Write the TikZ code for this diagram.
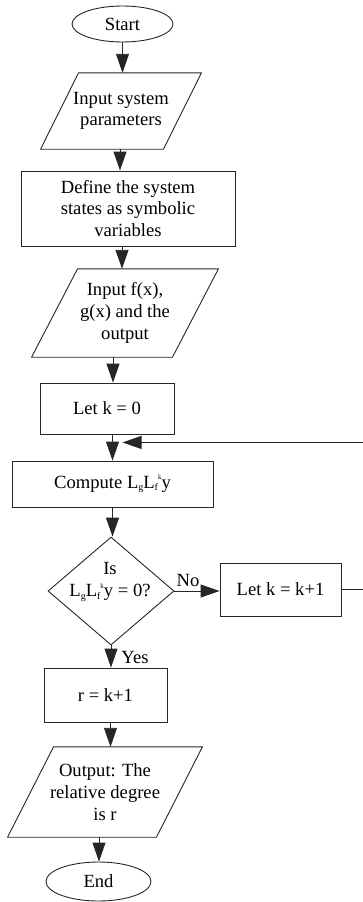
\documentclass[tikz,border=0pt]{standalone}
\usepackage{fontspec}
\setmainfont{Liberation Serif}
\usetikzlibrary{shapes.geometric,arrows.meta}
\newcommand\subsc[1]{\raisebox{-.3ex}{\fontsize{10}{10}\selectfont #1}}
\newcommand\supsc[1]{\raisebox{1.0ex}{\fontsize{7}{7}\selectfont #1}}
\newcommand\LgLfk{L\subsc{g}L\subsc{f}\supsc{k}y}
\tikzset{
  base/.style={font=\fontsize{18.6}{21.7}\selectfont, align=center, inner sep=0pt},
  shp/.style={base, draw=black!85, line width=0.9pt},
  proc/.style={shp, rectangle},
  term/.style={shp, ellipse},
  dia/.style={shp, diamond},
  io/.style={base, rectangle},
  iodraw/.style={draw=black!85, line width=0.9pt},
  flow/.style={draw=black!85, line width=0.9pt, -{Triangle[length=19pt,width=13pt]}},
  lbl/.style={font=\fontsize{18.6}{21.7}\selectfont, inner sep=0pt}
}
\begin{document}
\begin{tikzpicture}[x=1pt,y=-1pt]
\useasboundingbox (0,0) rectangle (363,902);
\clip (0,0) rectangle (363,902);
% nodes
\node[term, minimum width=101pt, minimum height=36pt] (start) at (122.5,24) {Start};
\node[io, minimum width=122.5pt, minimum height=76pt] (p1) at (121,111) {Input system\\parameters};
\node[proc, minimum width=214pt, minimum height=75pt] (r2) at (128,208.5) {Define the system\\states as symbolic\\variables};
\node[io, minimum width=140.5pt, minimum height=88pt] (p2) at (125,313) {Input f(x),\\g(x) and the\\output};
\node[proc, minimum width=134pt, minimum height=51pt] (r3) at (107,408.5) {Let k = 0};
\node[proc, minimum width=201pt, minimum height=46pt] (r4) at (112.5,484) {Compute \LgLfk};
\node[dia, minimum width=126pt, minimum height=108pt] (d) at (111,591) {};
\node[base] (dt) at (110,582) {Is\\\LgLfk{} = 0?};
\node[proc, minimum width=121pt, minimum height=53pt] (r5) at (280.5,589.5) {Let k = k+1};
\node[proc, minimum width=123pt, minimum height=54pt] (r6) at (105.5,695) {r = k+1};
\node[io, minimum width=148.5pt, minimum height=90pt] (p3) at (105,792) {Output: The\\relative degree\\is r};
\node[term, minimum width=105pt, minimum height=39pt] (end) at (98.5,881.5) {End};
% parallelograms
\draw[iodraw] ([xshift=19pt]p1.north west) -- ([xshift=19pt]p1.north east) -- ([xshift=-19pt]p1.south east) -- ([xshift=-19pt]p1.south west) -- cycle;
\draw[iodraw] ([xshift=23pt]p2.north west) -- ([xshift=23pt]p2.north east) -- ([xshift=-23pt]p2.south east) -- ([xshift=-23pt]p2.south west) -- cycle;
\draw[iodraw] ([xshift=23pt]p3.north west) -- ([xshift=23pt]p3.north east) -- ([xshift=-23pt]p3.south east) -- ([xshift=-23pt]p3.south west) -- cycle;
% connectors
\draw[flow] (start.south) -- (start.south |- p1.north);
\draw[flow] ([xshift=-1pt]p1.south) -- ([xshift=-1pt]p1.south |- r2.north);
\draw[flow] ([xshift=-6pt]r2.south) -- ([xshift=-6pt]r2.south |- p2.north);
\draw[flow] ([xshift=-12pt]p2.south) -- ([xshift=-12pt]p2.south |- r3.north);
\coordinate (join) at ([yshift=-8pt]r3.south -| r4.north);
\draw[flow] (r4.north |- r3.south) -- (r4.north);
\draw[flow] (r4.south) -- (r4.south |- d.north);
\draw[flow] (d.east) -- (d.east -| r5.west) node[lbl, pos=0.3, above=4pt] (no) {No};
\draw[flow] (d.south) -- (d.south |- r6.north) node[lbl, pos=0.55, right=10pt] (yes) {Yes};
\draw[flow] ([xshift=5pt]r6.south) -- ([xshift=5pt]r6.south |- p3.north);
\draw[flow] ([xshift=-6pt]p3.south) -- ([xshift=-6pt]p3.south |- end.north);
\coordinate (edge) at (365,0);
\draw[flow] (r5.east) -- (r5.east -| edge) -- (edge |- join) -- ([xshift=10pt]join);
\end{tikzpicture}
\end{document}
